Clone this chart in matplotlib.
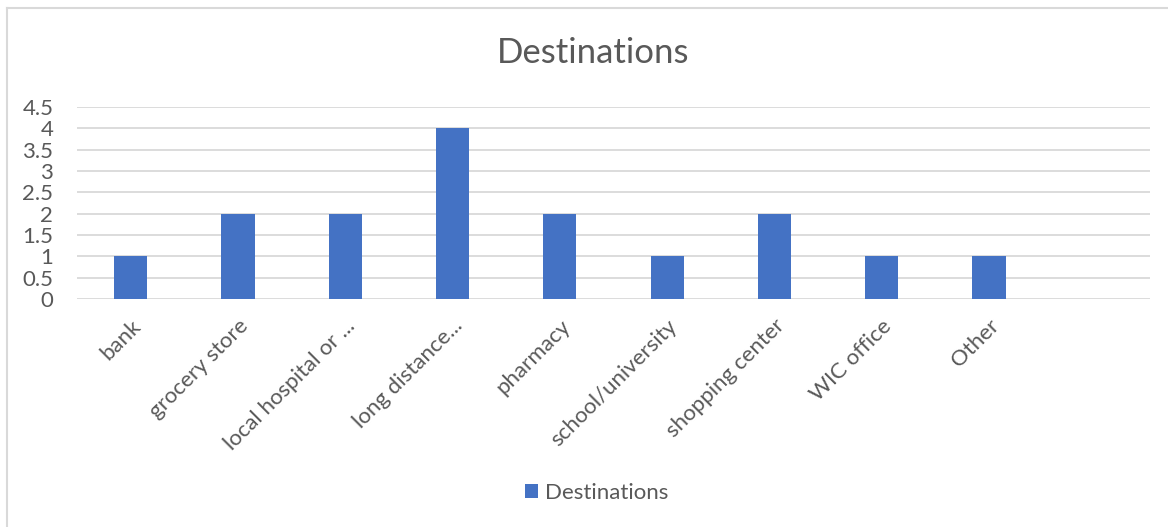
import matplotlib.pyplot as plt
from matplotlib.lines import Line2D

categories = ["bank", "grocery store", "local hospital or ...", "long distance...",
              "pharmacy", "school/university", "shopping center", "WIC office", "Other"]
counts = [1, 2, 2, 4, 2, 1, 2, 1, 1]
yticks = [0, 0.5, 1, 1.5, 2, 2.5, 3, 3.5, 4, 4.5]

blue = "#4472C4"
grey = "#595959"
plt.rcParams["font.family"] = ["Lato", "DejaVu Sans"]

fig = plt.figure(figsize=(11.68, 5.27), dpi=100)
ax = fig.add_axes([0.0659, 0.4326, 0.9187, 0.3644])

x = list(range(len(categories)))
ax.bar(x, counts, width=0.31, color=blue, zorder=3, label="Destinations")
ax.set_xlim(-0.5, 9.5)
ax.set_ylim(0, 4.5)
ax.set_yticks(yticks)
ax.set_yticklabels([f"{t:g}" for t in yticks], fontsize=16, color=grey)
ax.set_xticks(x)
ax.set_xticklabels(categories, rotation=45, ha="right", rotation_mode="anchor",
                   fontsize=16, color=grey)
ax.tick_params(axis="y", length=0, pad=17)
ax.tick_params(axis="x", length=0, pad=12)
ax.grid(axis="y", color="#d9d9d9", linewidth=1.3, zorder=0)
for s in ax.spines.values():
    s.set_visible(False)

fig.text(0.508, 0.90, "Destinations", ha="center", va="center", fontsize=25, color=grey)
fig.legend(loc="center", bbox_to_anchor=(0.511, 0.064), frameon=False, fontsize=16,
           labelcolor=grey, handlelength=0.6, handleheight=0.6, handletextpad=0.3)

# chart frame: only the top and left edges fall inside the image
fig.add_artist(Line2D([0.0058, 1.0], [0.984, 0.984], transform=fig.transFigure,
                      color="#d9d9d9", linewidth=1.5))
fig.add_artist(Line2D([0.0058, 0.0058], [0.0, 0.984], transform=fig.transFigure,
                      color="#d9d9d9", linewidth=1.5))
fig.savefig("out.png", dpi=100, facecolor="white")
